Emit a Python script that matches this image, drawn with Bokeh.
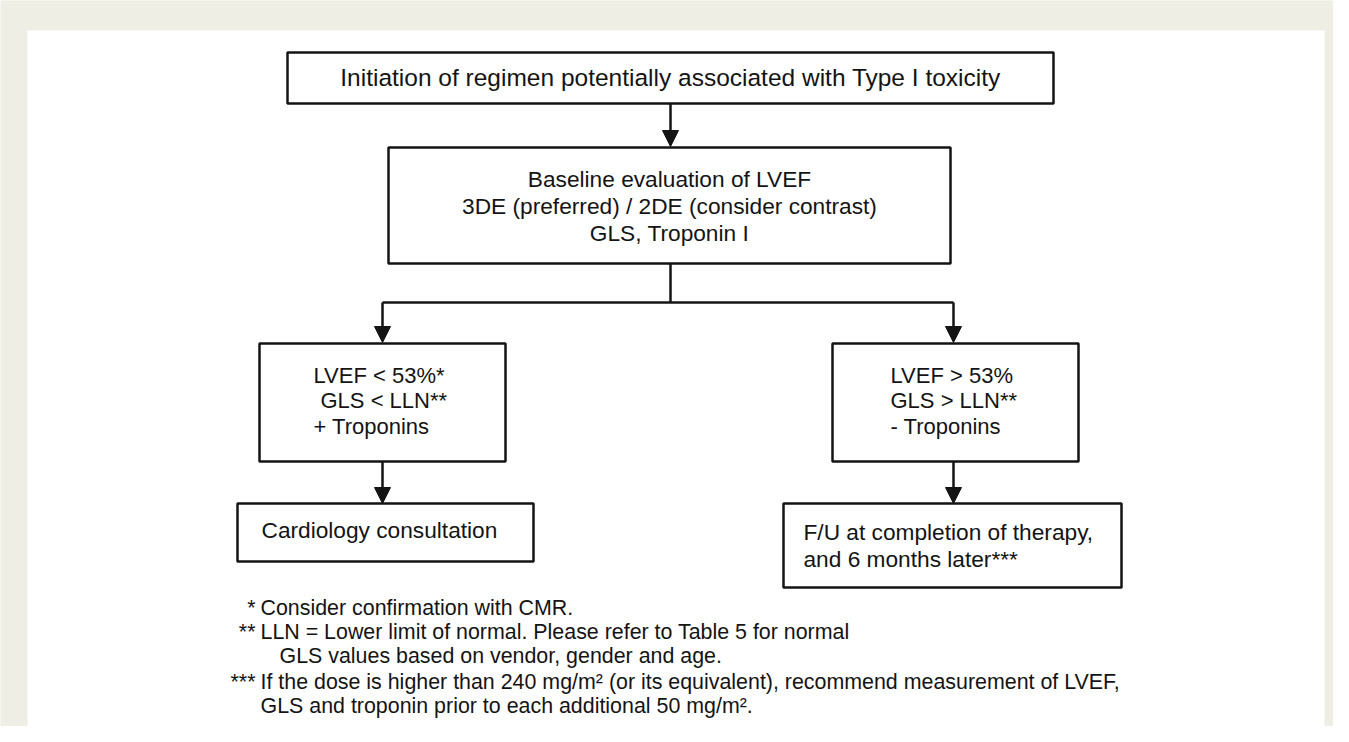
from bokeh.plotting import figure
from bokeh.models import Range1d, ColumnDataSource
from bokeh.core.properties import value
from bokeh.embed import file_html
from bokeh.resources import INLINE

# ---- content ----
start_label = ["Initiation of regimen potentially associated with Type I toxicity"]
baseline_label = ["Baseline evaluation of LVEF",
                  "3DE (preferred) / 2DE (consider contrast)",
                  "GLS, Troponin I"]
abnormal_label = ["LVEF < 53%*", "GLS < LLN**", "+ Troponins"]
normal_label = ["LVEF > 53%", "GLS > LLN**", "- Troponins"]
abnormal_action = ["Cardiology consultation"]
normal_action = ["F/U at completion of therapy,", "and 6 months later***"]
footnote_marks = ["*", "**", "", "***", ""]
footnote_texts = ["Consider confirmation with CMR.",
                  "LLN = Lower limit of normal. Please refer to Table 5 for normal",
                  "GLS values based on vendor, gender and age.",
                  "If the dose is higher than 240 mg/m\u00b2 (or its equivalent), recommend measurement of LVEF,",
                  "GLS and troponin prior to each additional 50 mg/m\u00b2."]

# ---- layout (page pixel coordinates, y downward) ----
FONT = value("Liberation Sans")
INK = "#141414"
BEIGE = "#EEEEE4"
TXT_DY = -8.5   # baseline correction for text placement

p = figure(width=1333, height=726, x_range=Range1d(0, 1333), y_range=Range1d(726, 0),
           output_backend="svg", toolbar_location=None, min_border=0)
p.axis.visible = False
p.grid.visible = False
p.outline_line_color = None
p.background_fill_color = BEIGE
p.border_fill_color = BEIGE

# white panel
p.quad(left=[27], right=[1324], top=[30], bottom=[800], fill_color="white", line_color=None)

boxes = dict(left=[287, 388, 259, 832, 237, 783],
             right=[1053, 950, 505, 1078, 533, 1121],
             top=[52, 147, 343, 343, 503, 503],
             bottom=[103, 263, 461, 461, 561, 587])
p.quad(source=ColumnDataSource(boxes), left="left", right="right", top="top", bottom="bottom",
       fill_color="white", line_color=INK, line_width=2.5)

# connector lines
segs = dict(x0=[670, 670, 382, 382, 953, 382, 953],
            y0=[103, 263, 302, 302, 302, 461, 461],
            x1=[670, 670, 953, 382, 953, 382, 953],
            y1=[135, 302, 302, 335, 335, 495, 495])
p.segment(source=ColumnDataSource(segs), x0="x0", y0="y0", x1="x1", y1="y1",
          line_color=INK, line_width=2.5)

# arrow heads (tip x, tip y)
tips_x = [670, 382, 953, 382, 953]
tips_y = [146, 342, 342, 503, 503]
hw, hl = 8, 16
xs = [[tx - hw, tx + hw, tx] for tx in tips_x]
ys = [[ty - hl, ty - hl, ty] for ty in tips_y]
p.patches(xs=xs, ys=ys, fill_color=INK, line_color=INK, line_width=1)


def draw_lines(lines, x, y0, dy, size, align="center", xs_=None):
    n = len(lines)
    src = ColumnDataSource(dict(x=xs_ if xs_ is not None else [x] * n,
                                y=[y0 + TXT_DY + i * dy for i in range(n)],
                                t=lines))
    p.text(source=src, x="x", y="y", text="t", text_font=FONT,
           text_font_size=value(size), text_align=align, text_baseline="alphabetic",
           text_color=INK)


draw_lines(start_label, 670, 85, 0, "24.5px")
draw_lines(baseline_label, 669, 187, 27, "22.7px")
draw_lines(abnormal_label, None, 383, 25.5, "22px", "left", xs_=[313, 320, 313])
draw_lines(normal_label, 890, 383, 25.5, "22px", "left")
draw_lines(abnormal_action, 261, 538, 0, "22.7px", "left")
draw_lines(normal_action, 803, 540, 27, "22.7px", "left")

fy = [616 + TXT_DY, 640 + TXT_DY, 664 + TXT_DY, 690 + TXT_DY, 714 + TXT_DY]
fx = [260, 260, 279, 260, 260]
msrc = ColumnDataSource(dict(x=[255] * 5, y=fy, t=footnote_marks))
p.text(source=msrc, x="x", y="y", text="t", text_font=FONT, text_font_size=value("21.4px"),
       text_align="right", text_baseline="alphabetic", text_color=INK)
tsrc = ColumnDataSource(dict(x=fx, y=fy, t=footnote_texts))
p.text(source=tsrc, x="x", y="y", text="t", text_font=FONT, text_font_size=value("21.4px"),
       text_align="left", text_baseline="alphabetic", text_color=INK)

open("out.html", "w").write(file_html(p, INLINE))
